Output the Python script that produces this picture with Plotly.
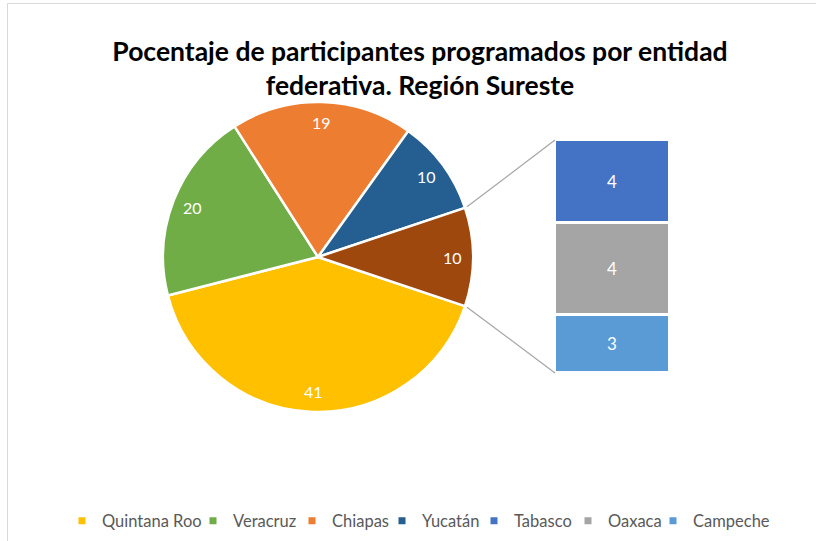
import math
import plotly.graph_objects as go

# ---------------- data ----------------
pie_labels = ["Quintana Roo", "Veracruz", "Chiapas", "Yucatán"]
pie_values = [41, 20, 19, 10]
pie_colors = ["#FFC000", "#70AD47", "#ED7D31", "#255E91"]

bar_labels = ["Tabasco", "Oaxaca", "Campeche"]
bar_values = [3.65, 4.1, 2.55]
bar_colors = ["#4472C4", "#A5A5A5", "#5B9BD5"]

other_label = "Otros"
other_color = "#9E480E"

title_text = "Pocentaje de participantes programados por entidad<br>federativa. Región Sureste"

# ---------------- geometry (pixels) ----------------
W, H = 816, 541
cx, cy, R = 318, 257, 155
bar_x0, bar_x1 = 555, 670
bar_y0, bar_y1 = 140, 373
label_r = 0.87
legend_left = 62
legend_entry_widths = [86, 54, 45, 47, 49, 40, 80]  # legend spacing (layout only)


def px(x):
    return x / W


def py(y):
    return 1 - y / H


other_value = sum(bar_values)
all_values = pie_values + [other_value]
all_colors = pie_colors + [other_color]
total = sum(all_values)
start_angle = 90 + 360 * (other_value / total) / 2  # centre 'other' slice at 3 o'clock

fig = go.Figure()

fig.add_trace(go.Pie(
    labels=pie_labels + [other_label],
    values=all_values,
    sort=False,
    direction="clockwise",
    rotation=start_angle,
    marker=dict(colors=all_colors, line=dict(color="white", width=2.5)),
    textinfo="none",
    hoverinfo="label+value",
    showlegend=False,
    domain=dict(x=[px(cx - R), px(cx + R)], y=[py(cy + R), py(cy - R)]),
))

# labels on pie, positioned from slice mid-angles
annotations = []
acc = 0.0
for v in all_values:
    mid = start_angle + 360 * (acc + v / 2) / total
    a = math.radians(mid)
    annotations.append(dict(
        x=label_r * math.sin(a), y=label_r * math.cos(a), xref="x2", yref="y2",
        text=f"{v:.0f}", showarrow=False,
        font=dict(family="Lato", size=16, color="white"),
    ))
    acc += v

# stacked bar (bottom to top: Campeche, Oaxaca, Tabasco)
for name, val, col in reversed(list(zip(bar_labels, bar_values, bar_colors))):
    fig.add_trace(go.Bar(
        x=[0], y=[val], name=name, width=1,
        marker=dict(color=col, line=dict(color="white", width=3)),
        text=[f"{val:.0f}"], texttemplate="%{text}", textposition="inside",
        insidetextanchor="middle", textangle=0,
        textfont=dict(family="Lato", size=17, color="white"),
        showlegend=False, hoverinfo="name+y",
    ))

# legend entries
for name, col, lw in zip(pie_labels + bar_labels, pie_colors + bar_colors, legend_entry_widths):
    fig.add_trace(go.Scatter(
        x=[None], y=[None], mode="markers", name=name,
        marker=dict(symbol="square", size=7, color=col),
        xaxis="x2", yaxis="y2", showlegend=True, legendwidth=lw,
    ))

# connector lines from 'other' slice edges to the bar
a_top = math.radians(start_angle - 360 * other_value / total)
a_bot = math.radians(start_angle)
p_top = (cx + R * math.sin(a_top), cy - R * math.cos(a_top))
p_bot = (cx + R * math.sin(a_bot), cy - R * math.cos(a_bot))
shapes = [
    dict(type="line", xref="paper", yref="paper",
         x0=px(p_top[0] + 2), y0=py(p_top[1] - 1), x1=px(bar_x0), y1=py(bar_y0),
         line=dict(color="#A6A6A6", width=1.25)),
    dict(type="line", xref="paper", yref="paper",
         x0=px(p_bot[0] + 2), y0=py(p_bot[1] + 1), x1=px(bar_x0), y1=py(bar_y1),
         line=dict(color="#A6A6A6", width=1.25)),
    dict(type="rect", xref="paper", yref="paper",
         x0=px(7.5), y0=py(560), x1=px(830), y1=py(3.5),
         line=dict(color="#D9D9D9", width=1)),
]

fig.update_layout(
    width=W, height=H,
    margin=dict(l=0, r=0, t=0, b=0),
    paper_bgcolor="white", plot_bgcolor="rgba(0,0,0,0)",
    barmode="stack", bargap=0,
    title=dict(text=title_text, x=420 / W, xanchor="center", y=py(61), yanchor="top",
               font=dict(family="Lato", size=26.5, color="black", weight="bold")),
    xaxis=dict(domain=[px(bar_x0), px(bar_x1)], range=[-0.5, 0.5], visible=False, fixedrange=True),
    yaxis=dict(domain=[py(bar_y1), py(bar_y0)], range=[0, other_value], visible=False, fixedrange=True),
    xaxis2=dict(domain=[px(cx - R), px(cx + R)], range=[-1, 1], visible=False, anchor="y2"),
    yaxis2=dict(domain=[py(cy + R), py(cy - R)], range=[-1, 1], visible=False, anchor="x2"),
    legend=dict(orientation="h", x=px(legend_left), xanchor="left", y=py(521), yanchor="middle",
                font=dict(family="Lato", size=16.5, color="#595959"),
                itemwidth=30, traceorder="normal", bgcolor="rgba(0,0,0,0)"),
    shapes=shapes,
    annotations=annotations,
    showlegend=True,
)

fig.write_html("out.html", config={"displayModeBar": False},
               post_script="document.body.style.margin='0px';")
